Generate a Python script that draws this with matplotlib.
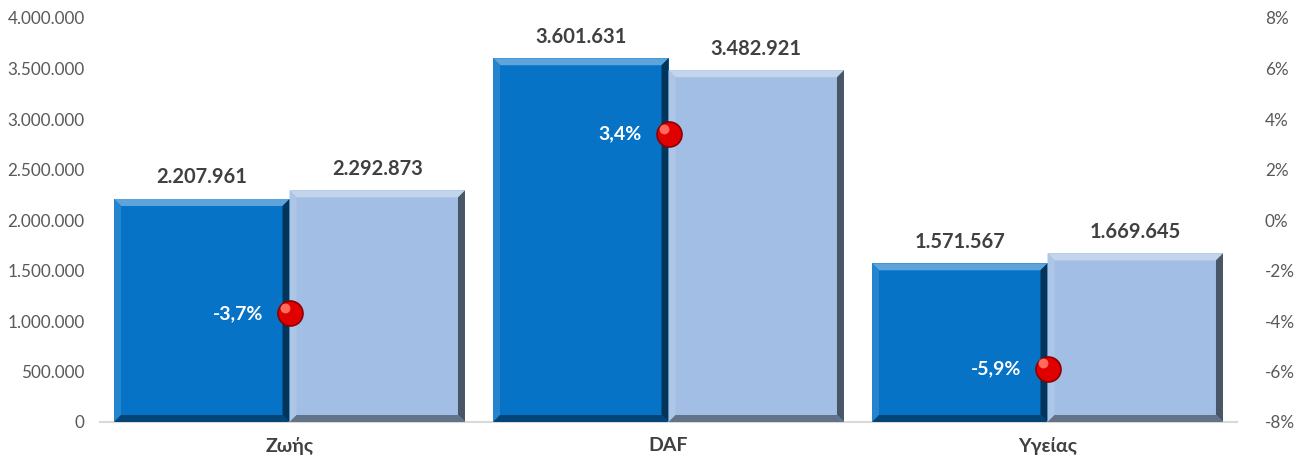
import numpy as np
import matplotlib
matplotlib.use('Agg')
import matplotlib.pyplot as plt
from matplotlib.patches import Polygon, Rectangle
from matplotlib.ticker import FuncFormatter

plt.rcParams['font.family'] = ['Lato', 'DejaVu Sans']

# data
categories = ['Ζωής', 'DAF', 'Υγείας']
values_2 = [2207961, 3601631, 1571567]   # dark bars
values_1 = [2292873, 3482921, 1669645]   # light bars
change = [-3.7, 3.4, -5.9]                # % on right axis

dark = '#0673C6'
light = '#A2BEE4'
txt = '#404040'
grey = '#595959'

W, H = 12.95, 4.62
fig = plt.figure(figsize=(W, H), dpi=100)
ax_l, ax_r, ax_b, ax_t = 100/1295, 1237/1295, 1 - 422/462, 1 - 18/462
ax = fig.add_axes([ax_l, ax_b, ax_r - ax_l, ax_t - ax_b])
ax2 = ax.twinx()

x = np.arange(len(categories))
bw = 0.463
ax.set_xlim(-0.5, len(categories) - 0.5)
ax.set_ylim(0, 4000000)
ax2.set_ylim(-8, 8)

# pixel -> data sizes for bevel
px_x = (len(categories)) / ((ax_r - ax_l) * 1295)
px_y = 4000000 / ((ax_t - ax_b) * 462)
bev = 7


def shade(c, f):
    c = np.array(matplotlib.colors.to_rgb(c))
    if f > 0:
        return tuple(c + (1 - c) * f)
    return tuple(c * (1 + f))


def bevel_bar(x0, w, h, col):
    bx, by = bev * px_x, bev * px_y
    ax.add_patch(Rectangle((x0, 0), w, h, facecolor=col, edgecolor='none', zorder=2))
    x1 = x0 + w
    # top
    ax.add_patch(Polygon([(x0, h), (x1, h), (x1 - bx, h - by), (x0 + bx, h - by)],
                         facecolor=shade(col, 0.35), edgecolor='none', zorder=3))
    # left
    ax.add_patch(Polygon([(x0, 0), (x0, h), (x0 + bx, h - by), (x0 + bx, by)],
                         facecolor=shade(col, 0.12), edgecolor='none', zorder=3))
    # right
    ax.add_patch(Polygon([(x1, 0), (x1, h), (x1 - bx, h - by), (x1 - bx, by)],
                         facecolor=shade(col, -0.55), edgecolor='none', zorder=3))
    # bottom
    ax.add_patch(Polygon([(x0, 0), (x1, 0), (x1 - bx, by), (x0 + bx, by)],
                         facecolor=shade(col, -0.4), edgecolor='none', zorder=3))


for i in range(len(categories)):
    bevel_bar(x[i] - bw, bw, values_2[i], dark)
    bevel_bar(x[i], bw, values_1[i], light)
    for xc, v in [(x[i] - bw / 2, values_2[i]), (x[i] + bw / 2, values_1[i])]:
        ax.text(xc, v + 115000, '{:,}'.format(v).replace(',', '.'), ha='center', va='bottom',
                fontsize=14.5, fontweight='bold', color=txt)

# red spheres
ax2.scatter(x, change, s=330, color='#8B0000', zorder=5)
ax2.scatter(x, change, s=250, color='#E00000', zorder=6)
ax2.scatter(x - 0.012, np.array(change) + 0.22, s=50, color='#FF6A5A', zorder=7, linewidths=0)
for i in range(len(categories)):
    ax2.text(x[i] - 0.07, change[i], '{:.1f}%'.format(change[i]).replace('.', ','),
             ha='right', va='center', fontsize=14, fontweight='bold', color='white', zorder=8)

ax.set_xticks(x)
ax.set_xticklabels(categories, fontsize=14, fontweight='bold', color=txt)
ax.set_yticks(np.arange(0, 4000001, 500000))
ax.yaxis.set_major_formatter(FuncFormatter(lambda v, p: '{:,}'.format(int(v)).replace(',', '.')))
ax2.set_yticks(np.arange(-8, 9, 2))
ax2.yaxis.set_major_formatter(FuncFormatter(lambda v, p: '{:d}%'.format(int(v))))
for a in (ax, ax2):
    a.tick_params(length=0, labelsize=12.3, labelcolor=grey)
    for s in a.spines.values():
        s.set_visible(False)
ax.tick_params(axis='x', pad=11, labelcolor=txt, labelsize=14)
ax.tick_params(axis='y', pad=11)
ax2.tick_params(axis='y', pad=20)
ax.spines['bottom'].set_visible(True)
ax.spines['bottom'].set_color('#D9D9D9')
ax.spines['bottom'].set_linewidth(1.5)
ax2.set_zorder(ax.get_zorder() + 1)

fig.savefig('out.png', dpi=100)
